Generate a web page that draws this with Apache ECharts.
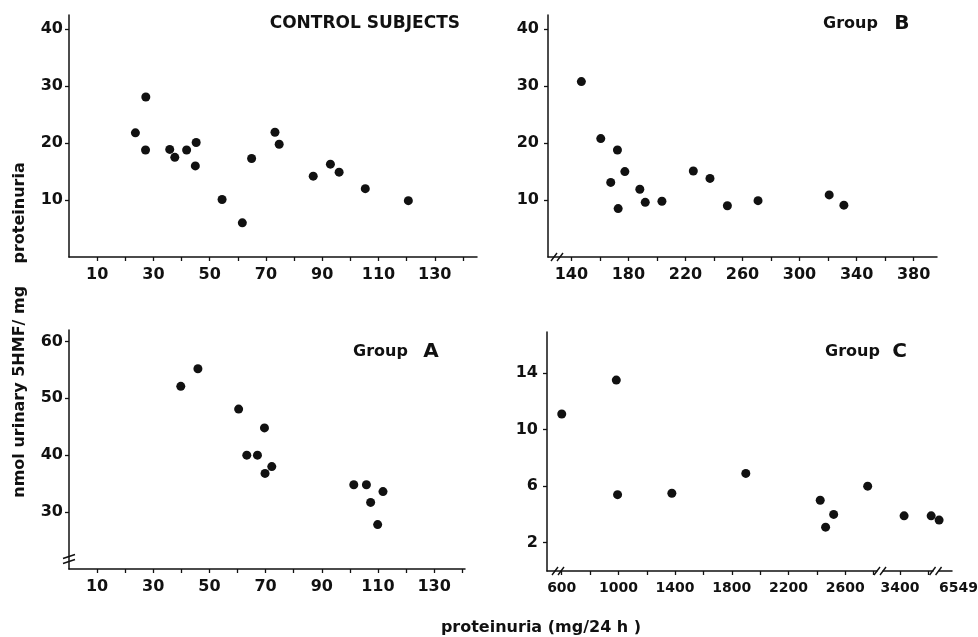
<!DOCTYPE html>
<html><head><meta charset="utf-8">
<script src="https://cdn.jsdelivr.net/npm/echarts@6.0.0/dist/echarts.min.js"></script>
<style>html,body{margin:0;padding:0;background:#fff}#c{width:978px;height:637px}</style>
</head><body><div id="c"></div>
<script>
// ---- data ----
const controlX = [23.6, 27.3, 27.2, 35.8, 37.6, 41.8, 45.2, 44.9, 54.4, 61.6, 64.9, 73.2, 74.7, 86.8, 92.9, 96.0, 105.3, 120.6];
const controlY = [21.8, 28.1, 18.8, 18.9, 17.5, 18.8, 20.1, 16.0, 10.1, 6.0, 17.3, 21.9, 19.8, 14.2, 16.3, 14.9, 12.0, 9.9];
const groupBX = [147.0, 160.6, 172.3, 167.6, 177.5, 172.8, 188.0, 191.8, 203.5, 225.5, 237.2, 249.4, 270.9, 320.8, 331.1];
const groupBY = [30.8, 20.8, 18.8, 13.1, 15.0, 8.5, 11.9, 9.6, 9.8, 15.1, 13.8, 9.0, 9.9, 10.9, 9.1];
const groupAX = [39.8, 45.9, 60.4, 69.6, 63.3, 67.1, 69.8, 72.2, 101.4, 105.9, 107.4, 111.8, 109.9];
const groupAY = [52.1, 55.2, 48.1, 44.8, 40.0, 40.0, 36.8, 38.0, 34.8, 34.8, 31.7, 33.6, 27.8];
const groupCX = [600, 985, 994, 1377, 1899, 2424, 2462, 2519, 2759, 3429, 3620, 6549];
const groupCY = [11.1, 13.5, 5.4, 5.5, 6.9, 5.0, 3.1, 4.0, 6.0, 3.9, 3.9, 3.6];

// ---- tick / label values ----
const lowXTicks = [10, 20, 30, 40, 50, 60, 70, 80, 90, 100, 110, 120, 130, 140];
const lowXLabels = [10, 30, 50, 70, 90, 110, 130];
const bXTicks = [140, 160, 180, 200, 220, 240, 260, 280, 300, 320, 340, 360, 380];
const bXLabels = [140, 180, 220, 260, 300, 340, 380];
const topYLabels = [10, 20, 30, 40];
const aYLabels = [30, 40, 50, 60];
const cYLabels = [2, 6, 10, 14];
const cXTicks = [600, 800, 1000, 1200, 1400, 1600, 1800, 2000, 2200, 2400, 2600, 2800, 3400, 3600];
const cXLabels = [600, 1000, 1400, 1800, 2200, 2600, 3400, 6549];
const cBreaks = [[2825, 3280], [3630, 6545]];

const panelTitles = ['CONTROL SUBJECTS', 'Group', 'Group', 'Group'];
const panelLetters = ['', 'B', 'A', 'C'];
const yTitle = 'nmol urinary 5HMF/ mg    proteinuria';
const xTitle = 'proteinuria (mg/24 h )';

const INK = '#111';
const FONT = 'DejaVu Sans';
const fmt = v => String(v);

function xAx(grid, min, max, ticks, labels, extra, labelExtra) {
  return Object.assign({
    type: 'value', gridIndex: grid, min: min, max: max,
    axisLine: { show: true, onZero: false, lineStyle: { color: INK, width: 1.5 } },
    axisTick: { show: true, inside: false, length: 4, customValues: ticks, lineStyle: { color: INK, width: 1.3 } },
    axisLabel: Object.assign({ customValues: labels, formatter: fmt, hideOverlap: false, showMaxLabel: true, margin: 10,
      color: INK, fontFamily: FONT, fontWeight: 'bold', fontSize: 16 }, labelExtra || {}),
    splitLine: { show: false }
  }, extra || {});
}
function yAx(grid, min, max, labels, margin) {
  return {
    type: 'value', gridIndex: grid, min: min, max: max,
    axisLine: { show: true, onZero: false, lineStyle: { color: INK, width: 1.5 } },
    axisTick: { show: true, inside: false, length: 4, customValues: labels, lineStyle: { color: INK, width: 1.3 } },
    axisLabel: { customValues: labels, formatter: fmt, margin: margin, color: INK, fontFamily: FONT, fontWeight: 'bold', fontSize: 16 },
    splitLine: { show: false }
  };
}
function pairs(xs, ys) { return xs.map((x, i) => [x, ys[i]]); }
function sc(i, xs, ys) {
  return { type: 'scatter', xAxisIndex: i, yAxisIndex: i, data: pairs(xs, ys), symbolSize: 9,
    itemStyle: { color: INK, opacity: 1 }, silent: true, animation: false };
}

const chart = echarts.init(document.getElementById('c'));
chart.setOption({
  animation: false,
  backgroundColor: '#fff',
  grid: [
    { left: 69, top: 15, width: 408, height: 242, outerBoundsMode: 'none' },
    { left: 548, top: 15, width: 389, height: 242, outerBoundsMode: 'none' },
    { left: 69, top: 330, width: 396, height: 239, outerBoundsMode: 'none' },
    { left: 547, top: 332, width: 405, height: 239, outerBoundsMode: 'none' }
  ],
  xAxis: [
    xAx(0, 0, 145, lowXTicks, lowXLabels),
    xAx(1, 123.6, 396.4, bXTicks, bXLabels),
    xAx(2, 0, 141, lowXTicks, lowXLabels),
    xAx(3, 496, 6640, cXTicks, cXLabels, {
      breaks: cBreaks.map(b => ({ start: b[0], end: b[1], gap: 42 })),
      breakArea: { show: false },
      breakLabelLayout: { moveOverlap: false }
    }, { fontSize: 14, alignMaxLabel: 'left' })
  ],
  yAxis: [
    yAx(0, 0, 42.5, topYLabels, 6),
    yAx(1, 0, 42.5, topYLabels, 9),
    yAx(2, 20, 62, aYLabels, 6),
    yAx(3, 0, 16.9, cYLabels, 9)
  ],
  series: [
    sc(0, controlX, controlY),
    sc(1, groupBX, groupBY),
    sc(2, groupAX, groupAY),
    sc(3, groupCX, groupCY)
  ]
});

// ---- decorations: titles and axis-break marks ----
const g = [];
function txt(t, x, y, size, align, rot) {
  g.push({ type: 'text', x: x, y: y, rotation: rot || 0, silent: true,
    style: { text: t, fill: INK, font: 'bold ' + size + 'px "' + FONT + '"', align: align || 'left', verticalAlign: 'middle' } });
}
function richTitle(word, letter, x, y, gap) {
  g.push({ type: 'text', x: x, y: y, silent: true,
    style: { text: '{w|' + word + '} {l|' + letter + '}', verticalAlign: 'middle', align: 'left',
      rich: { w: { fontFamily: FONT, fontWeight: 'bold', fontSize: 16, fill: INK, color: INK },
              l: { fontFamily: FONT, fontWeight: 'bold', fontSize: 20, fill: INK, color: INK, padding: [0, 0, 0, gap] } } } });
}
function hSlashes(cx, cy) {
  g.push({ type: 'rect', silent: true, shape: { x: cx - 3, y: cy - 2, width: 6, height: 4 }, style: { fill: '#fff' } });
  [-3, 3].forEach(d => g.push({ type: 'line', silent: true,
    shape: { x1: cx + d - 3, y1: cy + 4, x2: cx + d + 3, y2: cy - 4 }, style: { stroke: INK, lineWidth: 1.4 } }));
}
function vSlashes(cx, cy) {
  g.push({ type: 'rect', silent: true, shape: { x: cx - 2, y: cy - 2, width: 4, height: 4 }, style: { fill: '#fff' } });
  [-2.5, 2.5].forEach(d => g.push({ type: 'line', silent: true,
    shape: { x1: cx - 6, y1: cy + d + 2, x2: cx + 6, y2: cy + d - 2 }, style: { stroke: INK, lineWidth: 1.4 } }));
}

const pB = chart.convertToPixel({ gridIndex: 1 }, [123.6, 0]);
hSlashes(pB[0] + 9, pB[1]);
const pA = chart.convertToPixel({ gridIndex: 2 }, [0, 20]);
vSlashes(pA[0], pA[1] - 10);
const pC = chart.convertToPixel({ gridIndex: 3 }, [496, 0]);
hSlashes(pC[0] + 11, pC[1]);
cBreaks.forEach(b => {
  const a = chart.convertToPixel({ gridIndex: 3 }, [b[0], 0]);
  const c = chart.convertToPixel({ gridIndex: 3 }, [b[1], 0]);
  hSlashes((a[0] + c[0]) / 2, a[1]);
});

txt(panelTitles[0], 460, 24, 17, 'right');
richTitle(panelTitles[1], panelLetters[1], 823, 24, 13);
richTitle(panelTitles[2], panelLetters[2], 353, 352, 12);
richTitle(panelTitles[3], panelLetters[3], 825, 352, 9);
txt(yTitle, 20, 330, 16, 'center', Math.PI / 2);
txt(xTitle, 541, 628, 16, 'center');

chart.setOption({ graphic: g });
</script>
</body></html>
